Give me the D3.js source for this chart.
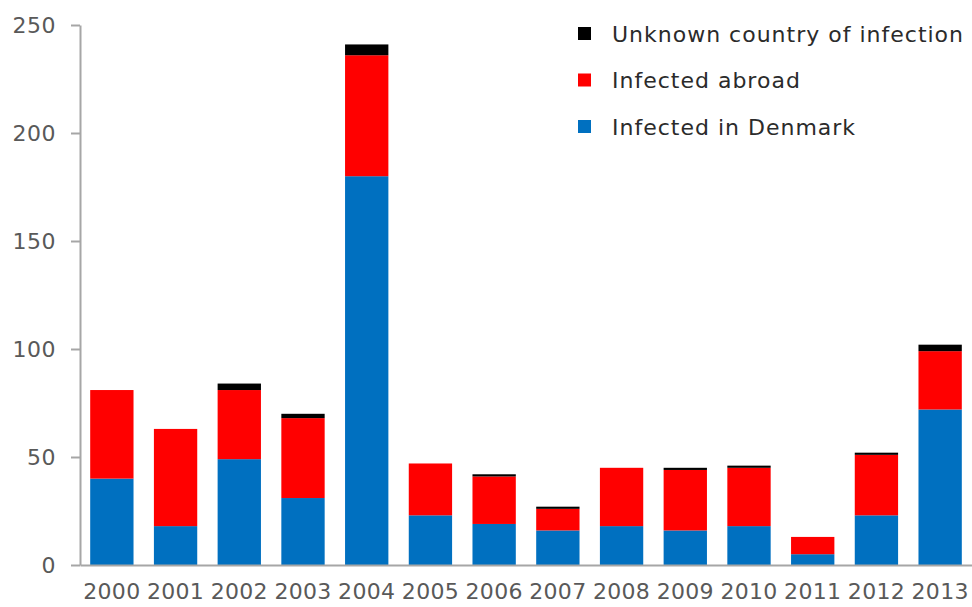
<!DOCTYPE html>
<html>
<head>
<meta charset="utf-8">
<script src="https://cdn.jsdelivr.net/npm/d3@7"></script>
<style>
  body { margin: 0; background: #fff; }
  text { font-family: "DejaVu Sans", Verdana, sans-serif; }
</style>
</head>
<body>
<div id="chart"></div>
<script>
// values
var years = ["2000","2001","2002","2003","2004","2005","2006","2007","2008","2009","2010","2011","2012","2013"];
var infectedDenmark = [40, 18, 49, 31, 180, 23, 19, 16, 18, 16, 18, 5, 23, 72];
var infectedAbroad  = [41, 45, 32, 37, 56, 24, 22, 10, 27, 28, 27, 8, 28, 27];
var unknownCountry  = [0, 0, 3, 2, 5, 0, 1, 1, 0, 1, 1, 0, 1, 3];
var yTicks = [0, 50, 100, 150, 200, 250];

var seriesNames = ["Infected in Denmark", "Infected abroad", "Unknown country of infection"];
var seriesColors = ["#0070c0", "#ff0000", "#000000"];

var width = 972, height = 607;
var margin = {top: 25, right: 0, bottom: 42, left: 80};

// build a table for d3.stack
var rows = years.map(function(y, i) {
    return {year: y, dk: infectedDenmark[i], abroad: infectedAbroad[i], unknown: unknownCountry[i]};
});
var keys = ["dk", "abroad", "unknown"];
var stacked = d3.stack().keys(keys)(rows);

var svg = d3.select("#chart")
    .append("svg")
      .attr("width", width)
      .attr("height", height);

var x = d3.scaleBand()
    .domain(years)
    .range([margin.left, width - margin.right])
    .paddingInner(0.32)
    .paddingOuter(0.16);

var y = d3.scaleLinear()
    .domain([0, 250])
    .range([height - margin.bottom, margin.top]);

// bars
svg.append("g")
    .selectAll("g")
    .data(stacked)
  .enter().append("g")
    .attr("fill", function(d, i) { return seriesColors[i]; })
    .selectAll("rect")
    .data(function(d) { return d; })
  .enter().append("rect")
    .attr("x", function(d) { return x(d.data.year); })
    .attr("width", x.bandwidth())
    .attr("y", function(d) { return y(d[1]); })
    .attr("height", function(d) { return y(d[0]) - y(d[1]); });

// y axis
var yAxis = svg.append("g")
    .attr("transform", "translate(" + margin.left + ",0)")
    .call(d3.axisLeft(y).tickValues(yTicks).tickSize(9).tickSizeOuter(0).tickPadding(15));
yAxis.select(".domain").attr("stroke", "#a6a6a6").attr("stroke-width", 2);
yAxis.selectAll(".tick line").attr("stroke", "#a6a6a6").attr("stroke-width", 2);
yAxis.selectAll(".tick text")
    .attr("fill", "#595959")
    .style("font-size", "22px")
    .style("letter-spacing", "0.5px")
    .attr("dy", "0.35em");

// x axis
var xAxis = svg.append("g")
    .attr("transform", "translate(0," + (height - margin.bottom) + ")")
    .call(d3.axisBottom(x).tickSize(0).tickPadding(18));
xAxis.select(".domain").attr("stroke", "#a6a6a6").attr("stroke-width", 2);
xAxis.selectAll(".tick text")
    .attr("fill", "#595959")
    .style("font-size", "22px")
    .style("letter-spacing", "0.3px");

// legend, top entry is the top of the stack
var legend = svg.append("g")
    .attr("transform", "translate(578,27)")
    .selectAll("g")
    .data(seriesNames.slice().reverse())
  .enter().append("g")
    .attr("transform", function(d, i) { return "translate(0," + (i * 46.5) + ")"; });

legend.append("rect")
    .attr("width", 13)
    .attr("height", 13)
    .attr("fill", function(d, i) { return seriesColors[seriesColors.length - 1 - i]; });

legend.append("text")
    .attr("x", 34)
    .attr("y", 7)
    .attr("dy", "0.35em")
    .attr("fill", "#2b2b2b")
    .style("font-size", "22px")
    .style("letter-spacing", "1px")
    .text(function(d) { return d; });
</script>
</body>
</html>
